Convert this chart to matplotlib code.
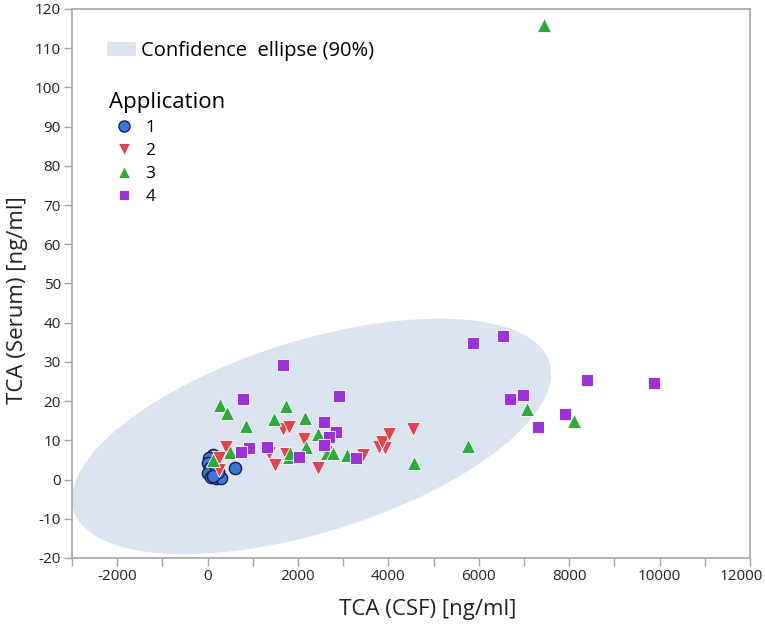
import numpy as np
import matplotlib
matplotlib.use('Agg')
import matplotlib.pyplot as plt
from matplotlib.patches import Patch
from matplotlib.lines import Line2D
from matplotlib.ticker import MultipleLocator
from matplotlib.transforms import ScaledTranslation

plt.rcParams['font.family'] = ['Open Sans', 'DejaVu Sans']
plt.rcParams['axes.unicode_minus'] = False

# TCA (CSF) [ng/ml] vs TCA (Serum) [ng/ml], by application
csf_1 = [120, 40, 10, 45, 10, 80, 190, 300, 230, 600, 155, 130]
serum_1 = [6.3, 5.4, 4.2, 2.9, 1.6, 0.6, 0.3, 0.5, 2.0, 2.9, 3.7, 1.0]

csf_2 = [413, 745, 243, 243, 1355, 1496, 1664, 1812, 1724, 2128, 2453, 2623,
         3433, 3801, 3927, 3852, 4022, 4538]
serum_2 = [8.3, 7.0, 5.5, 2.5, 6.7, 3.7, 13.0, 13.3, 6.5, 10.4, 2.9, 7.0,
           6.2, 8.3, 8.0, 9.7, 11.6, 13.0]

csf_3 = [265, 427, 855, 486, 117, 1459, 1739, 1812, 1830, 2159, 2438, 2181,
         2645, 2785, 3088, 4575, 5753, 7065, 8110, 7448]
serum_3 = [19.0, 16.9, 13.7, 7.1, 5.0, 15.4, 18.8, 5.8, 6.8, 15.6, 11.6, 8.4,
           6.7, 6.7, 6.3, 4.2, 8.6, 17.9, 15.0, 116.0]

csf_4 = [1664, 781, 2902, 2586, 2844, 2696, 2586, 913, 745, 1319, 2018, 3286,
         5864, 6541, 6689, 6969, 7315, 7905, 8391, 9878]
serum_4 = [29.2, 20.6, 21.4, 14.8, 12.2, 10.8, 8.7, 8.1, 7.1, 8.2, 5.7, 5.4,
           34.8, 36.6, 20.5, 21.6, 13.3, 16.7, 25.4, 24.6]

# 90% confidence ellipse (center, x half-extent, y components)
ell_center = (2300, 11.0)
ell_ax = 5300
ell_by = 16.0
ell_cy = 25.4

fig = plt.figure(figsize=(7.65, 6.24), dpi=100)
ax = fig.add_axes([0.0941, 0.1058, 0.8863, 0.8798])

t = np.linspace(0, 2 * np.pi, 400)
ex = ell_center[0] + ell_ax * np.cos(t)
ey = ell_center[1] + ell_by * np.cos(t) + ell_cy * np.sin(t)
ax.fill(ex, ey, color='#dae3f0', lw=0, zorder=1)

ax.plot(csf_1, serum_1, ls='none', marker='o', ms=8.8, mfc='#4275da', mec='#10204a', mew=1.0, zorder=3)
ax.plot(csf_2, serum_2, ls='none', marker='v', ms=10, mfc='#de4550', mec='white', mew=0.6, zorder=4)
ax.plot(csf_3, serum_3, ls='none', marker='^', ms=10, mfc='#2fa83c', mec='white', mew=0.6, zorder=5)
ax.plot(csf_4, serum_4, ls='none', marker='s', ms=8, mfc='#9a32d8', mec='white', mew=0.6, zorder=6)

ax.set_xlim(-3000, 12000)
ax.set_ylim(-20, 120)
ax.xaxis.set_major_locator(MultipleLocator(2000))
ax.xaxis.set_minor_locator(MultipleLocator(1000))
ax.yaxis.set_major_locator(MultipleLocator(10))

for s in ax.spines.values():
    s.set_color('#a6a6a6')
    s.set_linewidth(1.2)
ax.tick_params(axis='both', which='both', direction='out', color='#a6a6a6',
               length=5.5, width=1, pad=2.5, labelsize=11, labelcolor='#222222')

ax.set_xlabel('TCA (CSF) [ng/ml]', fontsize=16, color='#222222', labelpad=11)
ax.set_ylabel('TCA (Serum) [ng/ml]', fontsize=16, color='#222222', labelpad=5)
ax.xaxis.label.set_x(0.525)
ax.yaxis.label.set_y(0.47)

h1 = [Patch(facecolor='#dae3f0', edgecolor='none')]
leg1 = ax.legend(h1, ['Confidence  ellipse (90%)'], loc='center left',
                 bbox_to_anchor=(0.052, 0.923), frameon=False, fontsize=14.5,
                 handlelength=1.45, handleheight=0.72, handletextpad=0.25,
                 borderpad=0, borderaxespad=0)
ax.add_artist(leg1)

h2 = [Line2D([], [], ls='none', marker='o', ms=8, mfc='#4275da', mec='#10204a', mew=1.0),
      Line2D([], [], ls='none', marker='v', ms=9, mfc='#de4550', mec='white', mew=0.6),
      Line2D([], [], ls='none', marker='^', ms=9, mfc='#2fa83c', mec='white', mew=0.6),
      Line2D([], [], ls='none', marker='s', ms=7, mfc='#9a32d8', mec='white', mew=0.6)]
leg2 = ax.legend(h2, ['1', '2', '3', '4'], title='Application', loc='upper left',
                 bbox_to_anchor=(0.054, 0.849), frameon=False, fontsize=12.5,
                 title_fontsize=16, alignment='left', handlelength=1.72,
                 handletextpad=0.4, labelspacing=0.4, borderpad=0, borderaxespad=0)

# keep the last x tick label inside the figure, as in the original
fig.canvas.draw()
for lab in ax.get_xticklabels():
    if lab.get_text() == '12000':
        lab.set_transform(lab.get_transform() + ScaledTranslation(-9 / 100, 0, fig.dpi_scale_trans))

fig.savefig('out.png', dpi=100)
